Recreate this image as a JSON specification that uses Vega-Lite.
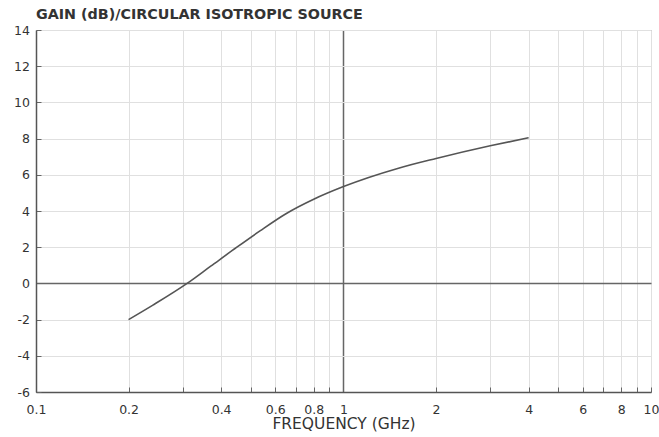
{
  "$schema": "https://vega.github.io/schema/vega-lite/v6.json",
  "autosize": "none",
  "width": 615,
  "height": 362,
  "padding": {"left": 36, "top": 30, "right": 8, "bottom": 45},
  "background": "white",
  "config": {
    "view": {"stroke": "#999", "strokeWidth": 1},
    "font": "DejaVu Sans",
    "axis": {"labelOverlap": false},
    "axisY": {"labelOverlap": false}
  },
  "title": {
    "text": "GAIN (dB)/CIRCULAR ISOTROPIC SOURCE",
    "anchor": "start",
    "frame": "group",
    "offset": 2,
    "fontSize": 14.3,
    "fontWeight": "bold",
    "font": "DejaVu Sans",
    "color": "#333"
  },
  "data": {"values": [
    {"freq": 0.2, "gain": -2.0},
    {"freq": 0.24, "gain": -1.2},
    {"freq": 0.31, "gain": 0.0},
    {"freq": 0.37, "gain": 0.95},
    {"freq": 0.45, "gain": 2.0},
    {"freq": 0.535, "gain": 2.9},
    {"freq": 0.65, "gain": 3.85},
    {"freq": 0.8, "gain": 4.65},
    {"freq": 1.0, "gain": 5.35},
    {"freq": 1.5, "gain": 6.35},
    {"freq": 2.0, "gain": 6.9},
    {"freq": 3.0, "gain": 7.6},
    {"freq": 4.0, "gain": 8.05}
  ]},
  "mark": {"type": "line", "color": "#555", "strokeWidth": 1.6, "interpolate": "monotone"},
  "encoding": {
    "x": {
      "field": "freq", "type": "quantitative",
      "scale": {"type": "log", "domain": [0.1, 10], "nice": false},
      "axis": {
        "title": "FREQUENCY (GHz)",
        "titleFont": "DejaVu Sans", "titleFontSize": 15.5, "titleFontWeight": "normal", "titleColor": "#333", "titlePadding": 1,
        "values": [0.1,0.2,0.3,0.4,0.5,0.6,0.7,0.8,0.9,1,2,3,4,5,6,7,8,9,10],
        "labelExpr": "indexof([0.1,0.2,0.4,0.6,0.8,1,2,4,6,8,10], datum.value) >= 0 ? format(datum.value, '~g') : ''",
        "labelFont": "DejaVu Sans", "labelFontSize": 12.5, "labelColor": "#333", "labelPadding": 16, "labelFlush": false, "labelOverlap": false,
        "tickSize": -5, "tickColor": "#666",
        "domainColor": "#555", "domainWidth": 1.5,
        "grid": true,
        "gridColor": {"condition": {"test": "datum.value === 1", "value": "#666"}, "value": "#e0e0e0"},
        "gridWidth": {"condition": {"test": "datum.value === 1", "value": 1.5}, "value": 1}
      }
    },
    "y": {
      "field": "gain", "type": "quantitative",
      "scale": {"domain": [-6, 14], "nice": false},
      "axis": {
        "title": null,
        "values": [-6,-4,-2,0,2,4,6,8,10,12,14],
        "labelExpr": "datum.value < 0 ? '-' + format(-datum.value, 'd') : format(datum.value, 'd')",
        "labelFont": "DejaVu Sans", "labelFontSize": 12.5, "labelColor": "#333", "labelPadding": 11.5, "labelOverlap": false, "labelFlush": false, "labelBound": false,
        "tickSize": -5, "tickColor": "#666",
        "domainColor": "#555", "domainWidth": 1.5,
        "grid": true,
        "gridColor": {"condition": {"test": "datum.value === 0", "value": "#666"}, "value": "#e0e0e0"},
        "gridWidth": {"condition": {"test": "datum.value === 0", "value": 1.5}, "value": 1}
      }
    }
  }
}
